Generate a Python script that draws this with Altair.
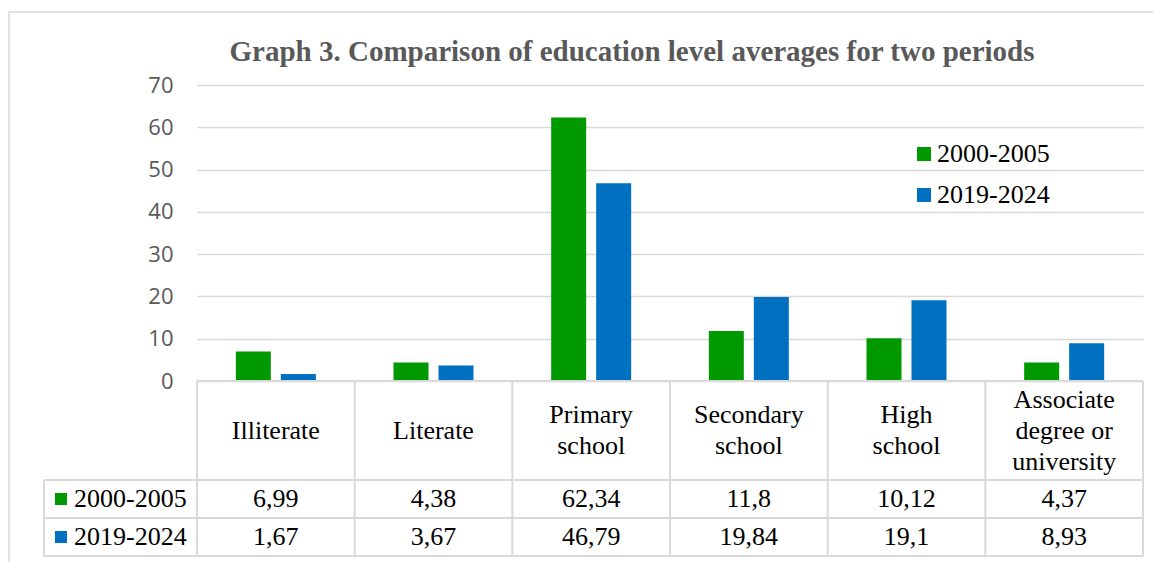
import altair as alt
import pandas as pd

# ---------------- data ----------------
categories = ["Illiterate", "Literate", "Primary school", "Secondary school",
              "High school", "Associate degree or university"]
header_labels = ["Illiterate", "Literate", "Primary\nschool", "Secondary\nschool",
                 "High\nschool", "Associate\ndegree or\nuniversity"]
series = ["2000-2005", "2019-2024"]
values_2000_2005 = [6.99, 4.38, 62.34, 11.8, 10.12, 4.37]
values_2019_2024 = [1.67, 3.67, 46.79, 19.84, 19.1, 8.93]
colors = ["#009900", "#0070C0"]
y_ticks = [0, 10, 20, 30, 40, 50, 60, 70]
title_text = "Graph 3. Comparison of education level averages for two periods"

rows = []
for s, vals in zip(series, [values_2000_2005, values_2019_2024]):
    for c, v in zip(categories, vals):
        rows.append({"cat": c, "series": s, "value": v,
                     "label": str(v).replace(".", ",")})
df = pd.DataFrame(rows)
df_cat = pd.DataFrame({"cat": categories, "header": header_labels})
df_one = pd.DataFrame({"k": [0]})
df_series = pd.DataFrame({"series": series})

# ---------------- layout ----------------
W = 946           # plot width
H = 471           # plot + table height
BAR_H = 296       # height of the bar area (0..70)
HDR_B = 395       # bottom of header row
ROW1_B = 433      # bottom of first data row
LEFT = -153       # left edge of the table's legend column
LINE_H = 31
GRID = "#d9d9d9"
SERIF = "Liberation Serif"

xscale = alt.Scale(domain=categories, paddingInner=0, paddingOuter=0)

bars = alt.Chart(df).mark_bar().encode(
    x=alt.X("cat:N", scale=xscale, axis=None, sort=categories),
    xOffset=alt.XOffset("series:N",
                        scale=alt.Scale(domain=series, paddingInner=0.222, paddingOuter=0.863)),
    y=alt.Y("value:Q",
            scale=alt.Scale(domain=[0, 70], range=[BAR_H, 0], nice=False),
            axis=alt.Axis(values=y_ticks, title=None, ticks=False, domain=False,
                          labelFont="Open Sans", labelFontSize=22, labelColor="#595959",
                          labelPadding=24, gridColor=GRID, gridWidth=1.5)),
    color=alt.Color("series:N", scale=alt.Scale(domain=series, range=colors),
                    legend=alt.Legend(title=None, orient="none", legendX=714, legendY=56,
                                      padding=0, labelFont=SERIF, labelFontSize=26,
                                      labelColor="black", symbolType="square",
                                      symbolSize=196, symbolStrokeWidth=0,
                                      rowPadding=15, labelOffset=0)),
)

def hrule(y, x1, x2):
    return alt.Chart(df_one).mark_rule(color=GRID, strokeWidth=2).encode(
        x=alt.value(x1), x2=alt.value(x2), y=alt.value(y))

vlines = alt.Chart(df_cat).mark_rule(color=GRID, strokeWidth=2).encode(
    x=alt.X("cat:N", scale=xscale, axis=None, bandPosition=0),
    y=alt.value(BAR_H), y2=alt.value(H))
right_line = alt.Chart(df_one).mark_rule(color=GRID, strokeWidth=2).encode(
    x=alt.value(W), y=alt.value(BAR_H), y2=alt.value(H))
left_line = alt.Chart(df_one).mark_rule(color=GRID, strokeWidth=2).encode(
    x=alt.value(LEFT), y=alt.value(HDR_B), y2=alt.value(H))

hdr_center = (BAR_H + HDR_B) / 2
headers = alt.Chart(df_cat).transform_calculate(
    nlines="length(split(datum.header, '\\n'))"
).transform_calculate(
    ypix=f"{hdr_center} - (datum.nlines - 1) * {LINE_H / 2}"
).mark_text(
    font=SERIF, fontSize=26, lineHeight=LINE_H, lineBreak="\n", color="black",
    baseline="middle", align="center").encode(
    x=alt.X("cat:N", scale=xscale, axis=None),
    y=alt.Y("ypix:Q", scale=None, axis=None),
    text="header:N")

row_y = [(HDR_B + ROW1_B) / 2, (ROW1_B + H) / 2]
table_layers = []
for i, s in enumerate(series):
    table_layers.append(
        alt.Chart(df).transform_filter(alt.datum.series == s).mark_text(
            font=SERIF, fontSize=26, color="black", baseline="middle", align="center").encode(
            x=alt.X("cat:N", scale=xscale, axis=None),
            y=alt.value(row_y[i]),
            text="label:N"))
    sub = alt.Chart(df_series).transform_filter(alt.datum.series == s)
    table_layers.append(
        sub.mark_square(size=144, opacity=1).encode(
            x=alt.value(-136), y=alt.value(row_y[i]), color=alt.value(colors[i])))
    table_layers.append(
        sub.mark_text(font=SERIF, fontSize=26, color="black", baseline="middle",
                      align="left").encode(
            x=alt.value(-123), y=alt.value(row_y[i]), text="series:N"))

title = alt.Chart(df_one).mark_text(
    font=SERIF, fontSize=29, fontWeight="bold", color="#595959",
    baseline="middle", align="center").encode(
    x=alt.value(435), y=alt.value(-33), text=alt.value(title_text))

border = alt.Chart(df_one).mark_rect(fillOpacity=0, stroke=GRID, strokeWidth=1.5).encode(
    x=alt.value(-188), x2=alt.value(980), y=alt.value(-73), y2=alt.value(560))

chart = alt.layer(
    border, bars,
    hrule(BAR_H, 0, W), hrule(HDR_B, LEFT, W), hrule(ROW1_B, LEFT, W), hrule(H, LEFT, W),
    vlines, right_line, left_line, headers, *table_layers, title
).resolve_scale(y="independent").properties(
    width=W, height=H,
    autosize=alt.AutoSizeParams(type="none"),
    padding={"left": 189, "top": 77, "right": 10, "bottom": 6},
    background="white",
).configure_view(stroke=None)

chart.save("out.html", embed_options={"renderer": "svg", "actions": False})
